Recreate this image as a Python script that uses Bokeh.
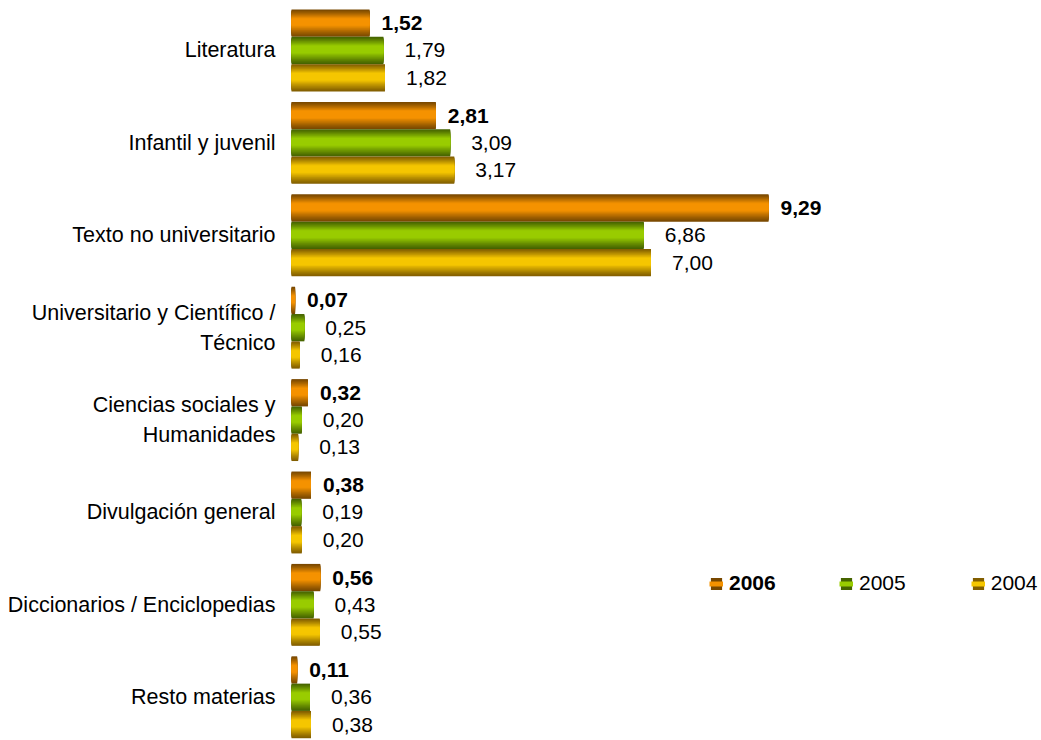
import numpy as np
from bokeh.plotting import figure
from bokeh.models import Range1d, Legend, LegendItem, ColumnDataSource
from bokeh.core.properties import value
from bokeh.embed import file_html
from bokeh.resources import INLINE

categories = ["Literatura", "Infantil y juvenil", "Texto no universitario",
              "Universitario y Científico /\nTécnico", "Ciencias sociales y\nHumanidades",
              "Divulgación general", "Diccionarios / Enciclopedias", "Resto materias"]
v2006 = [1.52, 2.81, 9.29, 0.07, 0.32, 0.38, 0.56, 0.11]
v2005 = [1.79, 3.09, 6.86, 0.25, 0.20, 0.19, 0.43, 0.36]
v2004 = [1.82, 3.17, 7.00, 0.16, 0.13, 0.20, 0.55, 0.38]
series_names = ["2006", "2005", "2004"]

FONT = "Liberation Sans"
bright = {"2006": (245, 146, 0), "2005": (153, 204, 0), "2004": (245, 198, 0)}
dark = {"2006": (120, 72, 0), "2005": (70, 100, 0), "2004": (130, 94, 0)}
label_off = {"2006": 12, "2005": 21, "2004": 21}

p = figure(width=1040, height=739, output_backend="svg", toolbar_location=None,
           x_range=Range1d(-5.667, 14.586), y_range=Range1d(7.457, -0.541),
           x_axis_location=None, y_axis_location=None, min_border=0)
p.outline_line_color = None
p.xgrid.visible = False
p.ygrid.visible = False

idx = np.arange(len(categories))
bh = 0.2955
L = 16

def mix(c1, c2, t):
    return "#%02x%02x%02x" % tuple(int(round(a + (b - a) * t)) for a, b in zip(c1, c2))

legend_renderers = {}
for si, (name, vals) in enumerate(zip(series_names, [v2006, v2005, v2004])):
    center = idx + (si - 1) * bh
    outer = None
    for k in range(L):
        f = k / L
        t = float(np.clip(f / 0.8, 0, 1)) ** 1.1
        col = mix(dark[name], bright[name], t)
        r = p.hbar(y=center - 0.05 * f * bh, left=0, right=vals, height=bh * (1 - 0.9 * f),
                   fill_color=col, line_color=None)
        if outer is None:
            outer = r
    txt = [("%.2f" % v).replace(".", ",") for v in vals]
    src = ColumnDataSource(dict(x=vals, y=center, t=txt))
    p.text(x="x", y="y", text="t", source=src, x_offset=label_off[name],
           text_font=value(FONT), text_font_size="21px",
           text_font_style="bold" if name == "2006" else "normal",
           text_color="black", text_align="left", text_baseline="middle")
    r_line = p.line(x=[vals[0]], y=[center[0]], line_color=mix(dark[name], bright[name], 1.0),
                    line_width=5, line_cap="butt")
    legend_renderers[name] = [outer, r_line]

# category labels
p.text(x=np.zeros(len(categories)), y=idx, text=categories, x_offset=-16,
       text_font=value(FONT), text_font_size="21.5px", text_color="black",
       text_align="right", text_baseline="middle", text_line_height=1.26)

legA = Legend(items=[LegendItem(label="2006", renderers=legend_renderers["2006"])],
              location=(709, 144), orientation="horizontal")
legB = Legend(items=[LegendItem(label="2005", renderers=legend_renderers["2005"]),
                     LegendItem(label="2004", renderers=legend_renderers["2004"])],
              location=(839, 144), orientation="horizontal", spacing=65)
for lg, style in ((legA, "bold"), (legB, "normal")):
    lg.label_text_font = FONT
    lg.label_text_font_size = "21px"
    lg.label_text_font_style = style
    lg.label_text_color = "black"
    lg.glyph_width = 14
    lg.glyph_height = 15
    lg.label_standoff = 6
    lg.padding = 0
    lg.margin = 0
    lg.border_line_color = None
    lg.background_fill_alpha = 0
    p.add_layout(lg)

open("out.html", "w").write(file_html(p, INLINE))
